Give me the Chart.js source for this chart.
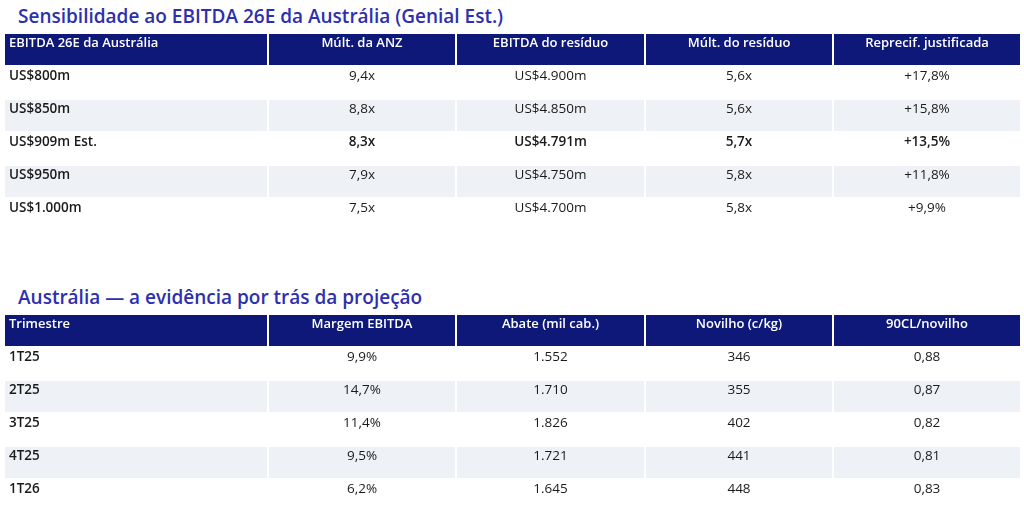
<!DOCTYPE html>
<html>
<head>
<meta charset="utf-8">
<script src="https://cdn.jsdelivr.net/npm/chart.js@4"></script>
<style>
  body { margin:0; width:1024px; height:505px; overflow:hidden; background:#fff; position:relative; font-family:"Open Sans", sans-serif; }
  h2 { position:absolute; left:18px; margin:0; font-size:19px; font-weight:600; color:#2e2fae; }
  canvas { position:absolute; left:0; }
</style>
</head>
<body>
<h2 style="top:3px">Sensibilidade ao EBITDA 26E da Austrália (Genial Est.)</h2>
<canvas id="t1" width="1024" height="198" style="top:33px"></canvas>
<h2 style="top:284px">Austrália — a evidência por trás da projeção</h2>
<canvas id="t2" width="1024" height="198" style="top:314px"></canvas>
<script>
// table 1
const headers1 = ['EBITDA 26E da Austrália', 'Múlt. da ANZ', 'EBITDA do resíduo', 'Múlt. do resíduo', 'Reprecif. justificada'];
const ebitda26 = ['US$800m', 'US$850m', 'US$909m Est.', 'US$950m', 'US$1.000m'];
const multAnz = ['9,4x', '8,8x', '8,3x', '7,9x', '7,5x'];
const ebitdaResiduo = ['US$4.900m', 'US$4.850m', 'US$4.791m', 'US$4.750m', 'US$4.700m'];
const multResiduo = ['5,6x', '5,6x', '5,7x', '5,8x', '5,8x'];
const reprecif = ['+17,8%', '+15,8%', '+13,5%', '+11,8%', '+9,9%'];
const boldRow1 = 2;

// table 2
const headers2 = ['Trimestre', 'Margem EBITDA', 'Abate (mil cab.)', 'Novilho (c/kg)', '90CL/novilho'];
const trimestres = ['1T25', '2T25', '3T25', '4T25', '1T26'];
const margem = ['9,9%', '14,7%', '11,4%', '9,5%', '6,2%'];
const abate = ['1.552', '1.710', '1.826', '1.721', '1.645'];
const novilho = ['346', '355', '402', '441', '448'];
const cl90 = ['0,88', '0,87', '0,82', '0,81', '0,83'];

// column edges (layout only)
const colEdges = [4, 268, 456, 645, 833, 1021];

const tablePlugin = {
  id: 'tablePlugin',
  afterDraw(chart) {
    const ctx = chart.ctx;
    const y = chart.scales.y;
    const cfg = chart.options.plugins.tablePlugin;
    const cols = cfg.columns;
    const n = y.getLabels().length;
    const rowH = (y.bottom - y.top) / n;
    ctx.save();
    ctx.textBaseline = 'middle';
    for (let i = 0; i < n; i++) {
      const top = y.getPixelForValue(i) - rowH / 2;
      const isHead = i === 0;
      const striped = !isHead && i % 2 === 0;
      for (let c = 0; c < cols.length; c++) {
        const x0 = colEdges[c], x1 = colEdges[c + 1];
        if (isHead || striped) {
          ctx.fillStyle = isHead ? '#0e1878' : '#eef1f6';
          ctx.fillRect(x0 + 1, top + 1, x1 - x0 - 2, rowH - 2);
        }
        const text = isHead ? cfg.headers[c] : cols[c][i - 1];
        const bold = isHead || c === 0 || (i - 1) === cfg.boldRow;
        ctx.font = (bold ? '600 ' : '400 ') + (isHead ? '13px' : '13.5px') + ' "Open Sans", sans-serif';
        ctx.fillStyle = isHead ? '#ffffff' : '#1a1a1a';
        const ty = top + (isHead ? 10 : 10);
        if (c === 0) { ctx.textAlign = 'left'; ctx.fillText(text, x0 + 5, ty); }
        else { ctx.textAlign = 'center'; ctx.fillText(text, (x0 + x1) / 2, ty); }
      }
    }
    ctx.restore();
  }
};

function createTable(id, headers, columns, boldRow) {
  const labels = ['head'].concat(columns[0]);
  new Chart(document.getElementById(id).getContext('2d'), {
    type: 'bar',
    data: { labels: labels, datasets: [{ data: labels.map(() => null) }] },
    options: {
      indexAxis: 'y',
      responsive: false,
      animation: false,
      events: [],
      layout: { padding: 0 },
      plugins: {
        legend: { display: false },
        tooltip: { enabled: false },
        tablePlugin: { headers: headers, columns: columns, boldRow: boldRow }
      },
      scales: {
        x: { display: false, min: 0, max: 1 },
        y: { display: false, type: 'category' }
      }
    },
    plugins: [tablePlugin]
  });
}

createTable('t1', headers1, [ebitda26, multAnz, ebitdaResiduo, multResiduo, reprecif], boldRow1);
createTable('t2', headers2, [trimestres, margem, abate, novilho, cl90], -1);
</script>
</body>
</html>
